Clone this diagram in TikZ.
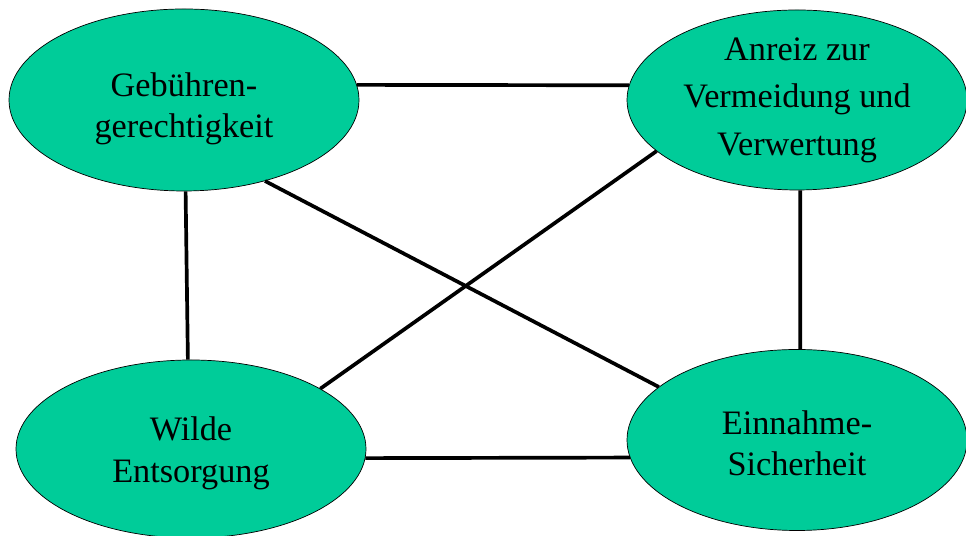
\documentclass[tikz,border=0pt]{standalone}
\usepackage{fontspec}
\setmainfont{Liberation Serif}
\usetikzlibrary{shapes.geometric}
\definecolor{ovalgreen}{RGB}{0,204,153}
\tikzset{
    oval/.style = {draw, ellipse, fill=ovalgreen, line width=0.4pt,
        inner sep=0pt, align=center,
        font=\fontsize{19.5}{23.5}\selectfont},
    link/.style = {draw, line width=2.1pt}
}

\begin{document}
\begin{tikzpicture}
    \useasboundingbox (0,0) rectangle (19.32,10.72);
    \node[oval, minimum width=7cm, minimum height=3.64cm, text height=47pt] (geb) at (3.68,8.72) {Gebühren-\\gerechtigkeit};
    \node[oval, minimum width=6.8cm, minimum height=3.6cm] (anr) at (15.94,8.72) {Anreiz zur\\[3.5pt]Vermeidung und\\[3.5pt]Verwertung};
    \node[oval, minimum width=7cm, minimum height=3.56cm, text height=42pt] (wil) at (3.82,1.74) {Wilde\\Entsorgung};
    \node[oval, minimum width=6.8cm, minimum height=3.62cm, text height=41pt] (ein) at (15.94,1.92) {Einnahme-\\Sicherheit};
    \draw [link] (geb.5) -- (anr.175);
    \draw [link] (wil.-3) -- (ein.186);
    \draw [link] (geb.-89) -- (wil.92);
    \draw [link] (anr.-88) -- (ein.88);
    \draw [link] (geb.-45) -- (ein.159);
    \draw [link] (anr.200) -- (wil.25);
\end{tikzpicture}
\end{document}
